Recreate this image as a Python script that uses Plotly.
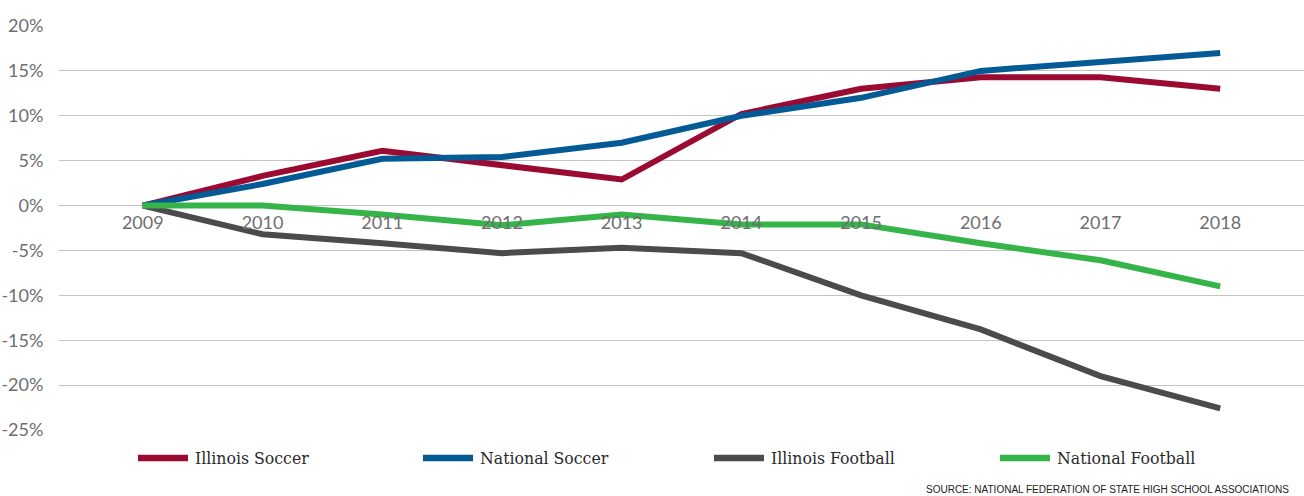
import plotly.graph_objects as go

years = [2009, 2010, 2011, 2012, 2013, 2014, 2015, 2016, 2017, 2018]
illinois_soccer = [0, 3.3, 6.1, 4.5, 2.9, 10.2, 13.0, 14.3, 14.3, 13.0]
national_soccer = [0, 2.4, 5.2, 5.4, 7.0, 10.0, 12.0, 15.0, 16.0, 17.0]
illinois_football = [0, -3.2, -4.2, -5.3, -4.7, -5.3, -10.0, -13.8, -19.0, -22.6]
national_football = [0, 0, -1.0, -2.2, -1.0, -2.1, -2.1, -4.2, -6.1, -9.0]

series_names = ["Illinois Soccer", "National Soccer", "Illinois Football", "National Football"]
series_values = [illinois_soccer, national_soccer, illinois_football, national_football]
series_colors = ["#9b0a30", "#045a95", "#4b4b4d", "#35b44a"]

y_ticks = [20, 15, 10, 5, 0, -5, -10, -15, -20, -25]
y_tick_labels = ["20%", "15%", "10%", "5%", "0%", "-5%", "-10%", "-15%", "-20%", "-25%"]
source_text = "SOURCE: NATIONAL FEDERATION OF STATE HIGH SCHOOL ASSOCIATIONS"

W, H = 1304, 496
ML, MR, MT, MB = 59, 0, 26, 66

fig = go.Figure()
for name, vals, col in zip(series_names, series_values, series_colors):
    fig.add_trace(go.Scatter(
        x=years, y=vals, name=name, mode="lines",
        line=dict(color=col, width=6), showlegend=False,
        cliponaxis=False,
    ))

# manual legend
legend_starts_px = [138, 423, 714, 1000]
legend_y_px = 458
plot_w = W - ML - MR
plot_h = H - MT - MB
def px_to_paper_x(px):
    return (px - ML) / plot_w
def py_to_paper_y(py):
    return (H - MB - py) / plot_h

for name, col, sx in zip(series_names, series_colors, legend_starts_px):
    fig.add_shape(type="line", xref="paper", yref="paper",
                  x0=px_to_paper_x(sx), x1=px_to_paper_x(sx + 50),
                  y0=py_to_paper_y(legend_y_px), y1=py_to_paper_y(legend_y_px),
                  line=dict(color=col, width=6.5))
    fig.add_annotation(text=name, xref="paper", yref="paper",
                       x=px_to_paper_x(sx + 55), y=py_to_paper_y(legend_y_px),
                       xanchor="left", yanchor="middle", showarrow=False,
                       font=dict(family="DejaVu Serif Condensed, Liberation Serif, serif",
                                 size=17.5, color="#2b2b2b"))

fig.add_annotation(text=source_text, xref="paper", yref="paper",
                   x=px_to_paper_x(1291), y=py_to_paper_y(490),
                   xanchor="right", yanchor="middle", showarrow=False,
                   font=dict(family="Liberation Sans Narrow, Arial Narrow, Liberation Sans, sans-serif",
                             size=10, color="#222222"))

zero_pos = (H - MB - 205) / plot_h

fig.update_layout(
    width=W, height=H,
    margin=dict(l=ML, r=MR, t=MT, b=MB),
    paper_bgcolor="white", plot_bgcolor="white",
    showlegend=False,
    xaxis=dict(
        range=[2008.3, 2018.7], tickmode="array", tickvals=years,
        ticktext=[str(y) for y in years],
        showgrid=False, zeroline=False, showline=False,
        anchor="free", position=zero_pos,
        ticks="outside", ticklen=1, tickcolor="rgba(0,0,0,0)",
        tickfont=dict(family="Lato, sans-serif", size=18, color="#6d6e71"),
        fixedrange=True,
    ),
    yaxis=dict(
        range=[-25, 20], tickmode="array", tickvals=y_ticks, ticktext=y_tick_labels,
        showgrid=True, gridcolor="#c4c4c4", gridwidth=1.3,
        zeroline=False, showline=False,
        ticks="outside", ticklen=11, tickcolor="rgba(0,0,0,0)",
        tickfont=dict(family="Lato, sans-serif", size=18, color="#6d6e71"),
        fixedrange=True,
    ),
)

fig.write_html("out.html")
